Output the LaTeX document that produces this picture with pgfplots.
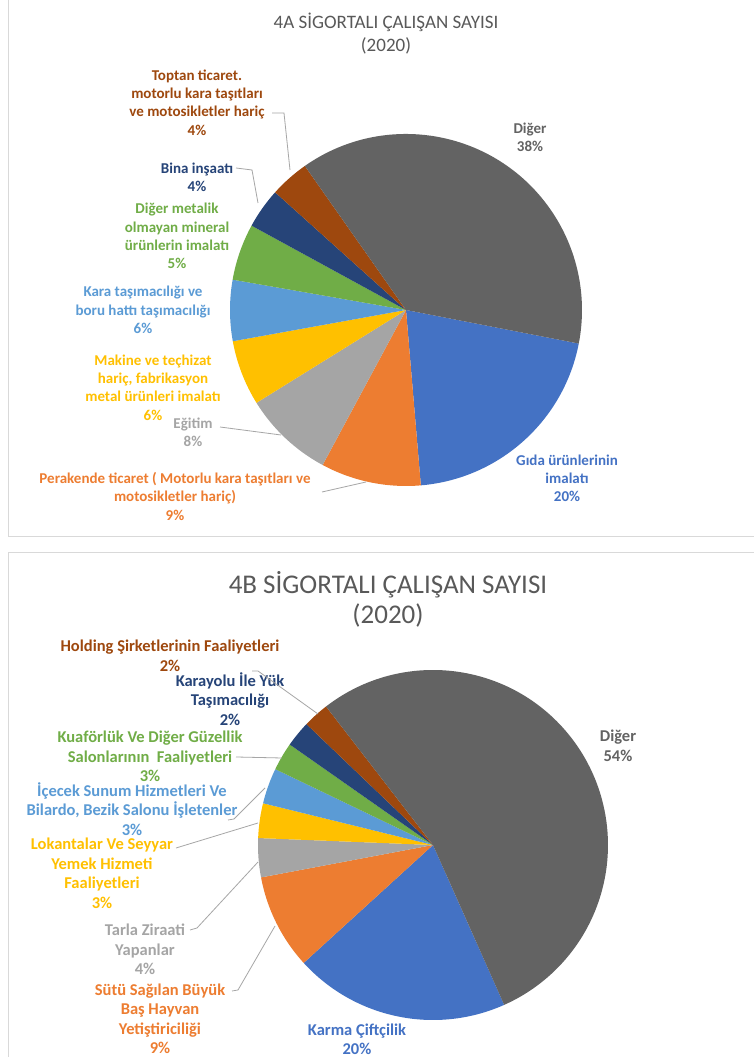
\documentclass[border=0pt]{standalone}
\usepackage{pgfplots}
\pgfplotsset{compat=1.18}
\usepackage{pgfplotstable}
\usepackage{fontspec}
\setmainfont{Carlito}

\definecolor{cBlue}{HTML}{4472C4}
\definecolor{cOrange}{HTML}{ED7D31}
\definecolor{cGray}{HTML}{A5A5A5}
\definecolor{cGold}{HTML}{FFC000}
\definecolor{cLBlue}{HTML}{5B9BD5}
\definecolor{cGreen}{HTML}{70AD47}
\definecolor{cDBlue}{HTML}{264478}
\definecolor{cBrown}{HTML}{9E480E}
\definecolor{cDGray}{HTML}{636363}
\definecolor{cTitle}{HTML}{595959}
\definecolor{cLeader}{HTML}{A6A6A6}
\definecolor{cBorder}{HTML}{D9D9D9}

% shares in percent, clockwise from the first slice
\pgfplotstableread{
share colour
20.6 cBlue
9.2  cOrange
8.3  cGray
6.0  cGold
5.6  cLBlue
5.2  cGreen
3.7  cDBlue
3.6  cBrown
37.8 cDGray
}\pieA

\pgfplotstableread{
share colour
19.9 cBlue
8.8  cOrange
3.6  cGray
3.2  cGold
3.3  cLBlue
2.6  cGreen
2.4  cDBlue
2.4  cBrown
53.8 cDGray
}\pieB

% #1 table, #2 start angle, #3 radius
\newcommand\piewedges[3]{%
  \pgfplotstablegetrowsof{#1}%
  \pgfmathtruncatemacro\lastrow{\pgfplotsretval-1}%
  \xdef\curang{#2}%
  \foreach \r in {0,...,\lastrow}{%
    \pgfplotstablegetelem{\r}{share}\of{#1}\let\sh\pgfplotsretval
    \pgfplotstablegetelem{\r}{colour}\of{#1}\let\co\pgfplotsretval
    \pgfmathsetmacro\nextang{\curang-3.6*\sh}%
    \fill[\co] (axis cs:0,0) -- ++(\curang:#3)
      arc[start angle=\curang, end angle=\nextang, radius=#3] -- cycle;
    \xdef\curang{\nextang}%
  }%
}

\pgfplotsset{pie/.style={hide axis, scale only axis, anchor=center,
  xmin=-1, xmax=1, ymin=-1, ymax=1}}

\begin{document}
\begin{tikzpicture}[x=1pt, y=1pt]
\useasboundingbox (0,0) rectangle (753,1057);
\fill[white] (0,0) rectangle (753,1057);

\begin{axis}[pie, width=352pt, height=352pt, at={(406pt,747pt)}]
  \pgfplotsextra{\piewedges{\pieA}{-11}{176pt}}
\end{axis}

\begin{axis}[pie, width=350pt, height=350pt, at={(433pt,212pt)}]
  \pgfplotsextra{\piewedges{\pieB}{-66}{175pt}}
\end{axis}

\begin{scope}[y=-1pt, shift={(0pt,1057pt)}]
  % frames
  \draw[cBorder, line width=1pt] (8,-5) -- (8,537) -- (760,537);
  \draw[cBorder, line width=1pt] (8,1065) -- (8,553) -- (760,553);

  % ---- chart A ----
  \node[cTitle, align=center, font=\fontsize{19}{23}\selectfont, inner sep=0]
    at (386,33.5) {4A SİGORTALI ÇALIŞAN SAYISI\\(2020)};

  \begin{scope}[every node/.style={align=center, inner sep=0,
      font=\bfseries\fontsize{15}{18.3}\selectfont}]
    \node[cBrown] at (197,102.5) {Toptan ticaret.\\motorlu kara taşıtları\\ve motosikletler hariç\\4\%};
    \node[cDBlue] at (197,177.5) {Bina inşaatı\\4\%};
    \node[cGreen] at (177,236) {Diğer metalik\\olmayan mineral\\ürünlerin imalatı\\5\%};
    \node[cLBlue] at (143,310) {Kara taşımacılığı ve\\boru hattı taşımacılığı\\6\%};
    \node[cGold] at (153,387.5) {Makine ve teçhizat\\hariç, fabrikasyon\\metal ürünleri imalatı\\6\%};
    \node[cGray] at (193,432.5) {Eğitim\\8\%};
    \node[cOrange] at (175,496.5) {Perakende ticaret ( Motorlu kara taşıtları ve\\motosikletler hariç)\\9\%};
    \node[cBlue] at (567,478.5) {Gıda ürünlerinin\\imalatı\\20\%};
    \node[cDGray] at (530,137.5) {Diğer\\38\%};
  \end{scope}

  \begin{scope}[cLeader, line width=0.8pt]
    \draw (272,113) -- (284,113) -- (290,170);
    \draw (236,168) -- (252,170) -- (258,203);
    \draw (220,427) -- (281,435);
    \draw (322,492) -- (366,482);
  \end{scope}

  % ---- chart B ----
  \node[cTitle, align=center, font=\fontsize{27}{30}\selectfont, inner sep=0]
    at (388,599.5) {4B SİGORTALI ÇALIŞAN SAYISI\\(2020)};

  \begin{scope}[every node/.style={align=center, inner sep=0,
      font=\bfseries\fontsize{16.5}{19.5}\selectfont}]
    \node[cBrown] at (170,656) {Holding Şirketlerinin Faaliyetleri\\2\%};
    \node[cDBlue] at (230,699) {Karayolu İle Yük\\Taşımacılığı\\2\%};
    \node[cGreen] at (150,756.5) {Kuaförlük Ve Diğer Güzellik\\Salonlarının\ \ Faaliyetleri\\3\%};
    \node[cLBlue] at (132,809) {İçecek Sunum Hizmetleri Ve\\Bilardo, Bezik Salonu İşletenler\\3\%};
    \node[cGold] at (102,873.5) {Lokantalar Ve Seyyar\\Yemek Hizmeti\\Faaliyetleri\\3\%};
    \node[cGray] at (145,949.5) {Tarla Ziraati\\Yapanlar\\4\%};
    \node[cOrange] at (160,1019) {Sütü Sağılan Büyük\\Baş Hayvan\\Yetiştiriciliği\\9\%};
    \node[cBlue] at (357,1039.5) {Karma Çiftçilik\\20\%};
    \node[cDGray] at (618,746) {Diğer\\54\%};
  \end{scope}

  \begin{scope}[cLeader, line width=0.8pt]
    \draw (252,671) -- (258,671) -- (318,714);
    \draw (236,757) -- (282,758);
    \draw (228,820) -- (234,819) -- (265,788);
    \draw (176,848) -- (258,823);
    \draw (190,930) -- (197,928) -- (258,862);
    \draw (232,991) -- (238,990) -- (275,926);
  \end{scope}
\end{scope}
\end{tikzpicture}
\end{document}
